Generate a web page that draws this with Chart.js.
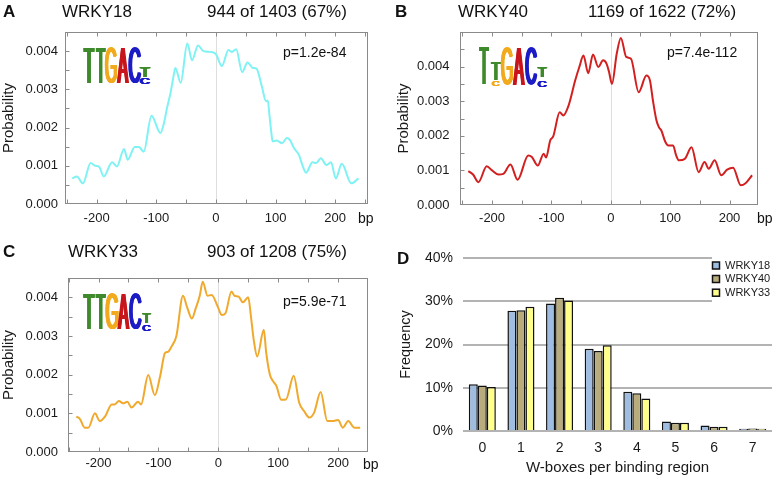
<!DOCTYPE html>
<html>
<head>
<meta charset="utf-8">
<script src="https://cdn.jsdelivr.net/npm/chart.js@4/dist/chart.umd.min.js"></script>
<style>
html,body{margin:0;padding:0;background:#fff;width:774px;height:477px;overflow:hidden;position:relative}
canvas{position:absolute}
</style>
</head>
<body>
<canvas id="cA" width="387" height="230" style="left:0;top:0"></canvas>
<canvas id="cB" width="384" height="230" style="left:390px;top:0"></canvas>
<canvas id="cC" width="387" height="247" style="left:0;top:230px"></canvas>
<canvas id="cD" width="384" height="247" style="left:390px;top:230px"></canvas>
<script>
// ---------------- DATA ----------------
// Position relative to binding-region centre (bp) and W-box probability
const bpA = [-241,-233,-223,-210,-202,-196,-188,-174,-166,-154,-148,-136,-129,-121,-108,-93,-87,-82,-76,-70,-68,-59,-48,-40,-30,-21,-9,0,10,21,27,34,44,53,62,68,77,84,87,90,93,95,102,111,119,124,131,139,145,151,162,168,176,185,193,201,211,227,239];
const probA = [0.67e-3,0.72e-3,0.54e-3,1.07e-3,1.00e-3,0.98e-3,0.72e-3,1.09e-3,0.98e-3,1.44e-3,1.16e-3,1.49e-3,1.49e-3,1.37e-3,2.31e-3,1.86e-3,2.12e-3,2.51e-3,2.91e-3,3.43e-3,3.56e-3,3.17e-3,4.20e-3,3.76e-3,4.15e-3,4.00e-3,3.98e-3,3.92e-3,3.61e-3,4.03e-3,3.98e-3,4.05e-3,3.45e-3,3.70e-3,3.56e-3,3.54e-3,3.08e-3,2.69e-3,2.71e-3,2.29e-3,1.86e-3,1.64e-3,1.66e-3,1.59e-3,1.73e-3,1.68e-3,1.46e-3,1.29e-3,1.02e-3,0.82e-3,1.09e-3,1.07e-3,1.20e-3,1.02e-3,1.09e-3,0.67e-3,1.05e-3,0.54e-3,0.67e-3];

const bpB = [-240,-232,-223,-209,-200,-189,-181,-169,-157,-139,-133,-123,-113,-109,-102,-97,-86,-80,-71,-60,-53,-46,-38,-30,-21,-13,-7,-3,2,10,17,26,34,47,60,66,71,77,81,85,92,97,105,110,115,125,136,148,158,165,175,186,196,206,219,227,238];
const probB = [0.98e-3,0.88e-3,0.66e-3,1.12e-3,1.00e-3,0.88e-3,0.90e-3,1.17e-3,0.73e-3,1.43e-3,1.39e-3,1.14e-3,1.48e-3,1.37e-3,1.87e-3,1.98e-3,2.68e-3,2.59e-3,2.88e-3,3.60e-3,3.99e-3,4.32e-3,3.81e-3,4.35e-3,3.99e-3,4.18e-3,4.08e-3,3.85e-3,3.50e-3,4.37e-3,4.83e-3,4.28e-3,4.23e-3,3.26e-3,3.74e-3,3.60e-3,3.02e-3,2.44e-3,2.25e-3,2.16e-3,1.82e-3,1.72e-3,1.72e-3,1.44e-3,1.29e-3,1.34e-3,1.67e-3,0.95e-3,1.24e-3,1.05e-3,1.29e-3,0.86e-3,1.02e-3,1.08e-3,0.57e-3,0.63e-3,0.86e-3];

const bpC = [-237,-231,-223,-217,-206,-198,-189,-178,-173,-166,-159,-152,-145,-134,-129,-117,-106,-97,-89,-84,-78,-70,-59,-52,-44,-38,-31,-26,-18,-11,-1,6,12,22,27,34,41,50,55,59,65,76,80,86,91,97,105,113,126,135,144,152,160,171,182,191,200,208,217,227,237];
const probC = [0.92e-3,0.85e-3,0.63e-3,0.63e-3,1.00e-3,0.80e-3,0.92e-3,1.23e-3,1.23e-3,1.32e-3,1.26e-3,1.30e-3,1.15e-3,1.30e-3,1.23e-3,1.99e-3,1.47e-3,1.97e-3,2.56e-3,2.59e-3,2.73e-3,3.00e-3,4.04e-3,3.74e-3,3.45e-3,3.70e-3,4.04e-3,4.40e-3,4.04e-3,4.06e-3,3.76e-3,3.54e-3,3.59e-3,4.15e-3,4.04e-3,4.02e-3,3.87e-3,4.00e-3,3.44e-3,2.92e-3,2.47e-3,3.16e-3,2.57e-3,2.01e-3,1.84e-3,1.71e-3,1.35e-3,1.36e-3,1.97e-3,1.28e-3,1.04e-3,0.89e-3,1.02e-3,1.55e-3,0.80e-3,0.80e-3,0.83e-3,0.63e-3,0.80e-3,0.63e-3,0.63e-3];

// Tick labels
const bpTickValues = [-200,-100,0,100,200];
const probTickValues = [0,0.001,0.002,0.003,0.004];

// Panel D: W-boxes per binding region
const wboxCategories = ['0','1','2','3','4','5','6','7'];
const freqWRKY18 = [10.8,27.8,29.5,19.0,9.1,2.2,1.3,0.5];
const freqWRKY40 = [10.5,27.9,30.8,18.5,8.7,1.9,1.0,0.6];
const freqWRKY33 = [10.2,28.7,30.2,19.8,7.5,1.9,1.0,0.5];
const freqTickValues = [0,10,20,30,40];

// ---------------- STYLE ----------------
const FAMILY = '"Liberation Sans", Arial, Helvetica, sans-serif';
Chart.defaults.font.family = FAMILY;
Chart.defaults.color = '#1a1a1a';

const LG = '#3f8a2c', LO = '#f2aa1e', LR = '#c8161d', LB = '#1d1dc6';

// Draw a stretched sequence-logo letter; stems thickened by horizontal smearing only
function drawLetter(ctx, ch, color, x0, x1, y0, y1) {
  const smear = Math.min(1.1, (x1 - x0) * 0.1);
  const bx0 = x0 + smear, bx1 = x1 - smear;
  ctx.save();
  ctx.font = '100px ' + FAMILY;
  const m = ctx.measureText(ch);
  const bw = m.actualBoundingBoxLeft + m.actualBoundingBoxRight;
  const bh = m.actualBoundingBoxAscent + m.actualBoundingBoxDescent;
  ctx.fillStyle = color;
  ctx.textAlign = 'left';
  ctx.textBaseline = 'alphabetic';
  for (let d = -smear; d <= smear + 1e-6; d += smear / 3) {
    ctx.save();
    ctx.translate(bx0 + d, y0);
    ctx.scale((bx1 - bx0) / bw, (y1 - y0) / bh);
    ctx.fillText(ch, m.actualBoundingBoxLeft, m.actualBoundingBoxAscent);
    ctx.restore();
  }
  ctx.restore();
}

function makeDecor(p) {
  return {
    id: 'decor',
    beforeDatasetsDraw(chart) {
      const {ctx, chartArea: a, scales: {x}} = chart;
      const x0 = Math.round(x.getPixelForValue(0)) + 0.5;
      ctx.save();
      ctx.strokeStyle = '#dedede';
      ctx.lineWidth = 1;
      ctx.beginPath(); ctx.moveTo(x0, a.top); ctx.lineTo(x0, a.bottom); ctx.stroke();
      ctx.restore();
    },
    afterDraw(chart) {
      const {ctx, chartArea: a, scales: {x, y}} = chart;
      ctx.save();
      ctx.strokeStyle = '#8a8a8a';
      ctx.lineWidth = 1;
      const L = Math.round(a.left) + 0.5, R = Math.round(a.right) - 0.5;
      const T = Math.round(a.top) + 0.5, B = Math.round(a.bottom) - 0.5;
      ctx.strokeRect(L, T, R - L, B - T);
      ctx.beginPath();
      for (let v = 0.0005; v < p.yMax; v += 0.0005) {
        const py = Math.round(y.getPixelForValue(v)) + 0.5;
        ctx.moveTo(L, py); ctx.lineTo(L + 4, py);
      }
      for (let v = -250; v <= 250; v += 50) {
        if (v <= p.xMin || v >= p.xMax) continue;
        const px = Math.round(x.getPixelForValue(v)) + 0.5;
        ctx.moveTo(px, T); ctx.lineTo(px, T + 4);
        ctx.moveTo(px, B); ctx.lineTo(px, B - 4);
      }
      ctx.stroke();
      p.logo.forEach(l => drawLetter(ctx, l[0], l[1], l[2], l[3], l[4], l[5]));
      ctx.fillStyle = '#111';
      ctx.textAlign = 'left';
      ctx.textBaseline = 'alphabetic';
      ctx.font = 'bold 17px ' + FAMILY;
      ctx.fillText(p.letter[0], p.letter[1], p.letter[2]);
      ctx.font = '17px ' + FAMILY;
      p.titles.forEach(t => ctx.fillText(t[0], t[1], t[2]));
      ctx.font = '14px ' + FAMILY;
      ctx.fillText(p.pval[0], p.pval[1], p.pval[2]);
      ctx.fillText('bp', p.bp[0], p.bp[1]);
      ctx.restore();
    }
  };
}

function linePanel(id, bp, prob, color, p) {
  return new Chart(document.getElementById(id), {
    type: 'line',
    data: {
      datasets: [{
        data: bp.map((xv, i) => ({x: xv, y: prob[i]})),
        borderColor: color,
        borderWidth: 2,
        pointRadius: 0,
        fill: false,
        cubicInterpolationMode: 'monotone'
      }]
    },
    options: {
      responsive: false,
      animation: false,
      events: [],
      layout: {padding: {top: p.area.top, right: p.w - p.area.right, left: 0, bottom: 0}},
      plugins: {legend: {display: false}, tooltip: {enabled: false}},
      scales: {
        x: {
          type: 'linear', min: p.xMin, max: p.xMax,
          afterBuildTicks: s => { s.ticks = bpTickValues.map(v => ({value: v})); },
          grid: {display: false, drawTicks: false},
          border: {display: false},
          ticks: {padding: p.xPad, font: {size: 13}, color: '#1a1a1a', maxRotation: 0, autoSkip: false, callback: v => String(v)},
          afterFit: s => { s.height = p.h - p.area.bottom; }
        },
        y: {
          type: 'linear', min: 0, max: p.yMax,
          afterBuildTicks: s => { s.ticks = probTickValues.map(v => ({value: v})); },
          grid: {display: false, drawTicks: false},
          border: {display: false},
          ticks: {padding: p.yPad, font: {size: 13}, color: '#1a1a1a', autoSkip: false, callback: v => Number(v).toFixed(3)},
          title: {display: true, text: 'Probability', font: {size: 15}, color: '#1a1a1a', padding: {top: p.yTitlePad, bottom: 0}},
          afterFit: s => { s.width = p.area.left; }
        }
      }
    },
    plugins: [makeDecor(p)]
  });
}

linePanel('cA', bpA, probA, '#7ff2f4', {
  w: 387, h: 230, area: {left: 65, top: 32, right: 368, bottom: 204},
  xMin: -253, xMax: 255, yMax: 0.0045, xPad: 7, yPad: 7, yTitlePad: 0,
  letter: ['A', 3, 17], titles: [['WRKY18', 62, 17], ['944 of 1403 (67%)', 207, 17]],
  pval: ['p=1.2e-84', 283, 57], bp: [358, 223],
  logo: [['T',LG,83.3,94.7,48.3,83.3],['T',LG,95.7,105.7,48.3,83.3],['G',LO,104.7,117.3,48.3,83.3],
         ['A',LR,116.7,129,48.3,83.3],['C',LB,128.3,141.3,48.3,83.3],['T',LG,139.5,150.5,66.7,76.7],['C',LB,139.5,150.5,77.7,84]]
});

linePanel('cB', bpB, probB, '#d21f1f', {
  w: 384, h: 230, area: {left: 70, top: 32, right: 368, bottom: 205},
  xMin: -254, xMax: 248, yMax: 0.005, xPad: 6, yPad: 10.5, yTitlePad: 4.5,
  letter: ['B', 5, 17], titles: [['WRKY40', 68, 17], ['1169 of 1622 (72%)', 198, 17]],
  pval: ['p=7.4e-112', 277, 57], bp: [367, 223],
  logo: [['T',LG,89,99,48,85],['T',LG,100.7,111,61.7,80],['C',LO,101.5,110,81,86],['G',LO,110.7,123.3,48,85],
         ['A',LR,122.7,135,48,85],['C',LB,135,147.3,48,85],['T',LG,147.3,157.3,66.7,77.3],['C',LB,147.3,157.3,80,86.7]]
});

linePanel('cC', bpC, probC, '#f0a92c', {
  w: 387, h: 247, area: {left: 68, top: 48, right: 368, bottom: 222},
  xMin: -251, xMax: 250, yMax: 0.0045, xPad: 4, yPad: 10, yTitlePad: 0,
  letter: ['C', 3, 26.5], titles: [['WRKY33', 68, 26.5], ['903 of 1208 (75%)', 207, 26.5]],
  pval: ['p=5.9e-71', 283, 76], bp: [363, 238.5],
  logo: [['T',LG,83,95,64.3,99.3],['T',LG,95.5,106,64.3,99.3],['G',LO,105.3,118.7,64.3,99.3],
         ['A',LR,117.3,129.7,64.3,99.3],['C',LB,129,142,64.3,99.3],['T',LG,142,151.3,82,92.7],['C',LB,142,151.3,94.3,101]]
});

// ---------------- PANEL D ----------------
const barColors = ['#9fbde0', '#b8ac7c', '#ffff8a'];
const dDecor = {
  id: 'dDecor',
  afterDatasetsDraw(chart) {
    const {ctx} = chart;
    ctx.save();
    ctx.fillStyle = '#fff';
    ctx.fillRect(322, 22, 62, 54);
    const names = chart.data.datasets.map(d => d.label);
    const rows = [35.5, 49, 62.7];
    ctx.font = '11px ' + FAMILY;
    ctx.textBaseline = 'middle';
    ctx.textAlign = 'left';
    names.forEach((n, i) => {
      ctx.fillStyle = barColors[i];
      ctx.fillRect(322.5, rows[i] - 3.5, 7, 7);
      ctx.strokeStyle = '#111';
      ctx.lineWidth = 1.5;
      ctx.strokeRect(322.5, rows[i] - 3.5, 7, 7);
      ctx.fillStyle = '#1a1a1a';
      ctx.fillText(n, 335, rows[i]);
    });
    ctx.font = 'bold 17px ' + FAMILY;
    ctx.textBaseline = 'alphabetic';
    ctx.fillStyle = '#111';
    ctx.fillText('D', 7, 33.5);
    ctx.restore();
  }
};

new Chart(document.getElementById('cD'), {
  type: 'bar',
  data: {
    labels: wboxCategories,
    datasets: [
      {label: 'WRKY18', data: freqWRKY18, backgroundColor: barColors[0], borderColor: '#111', borderWidth: 1.5},
      {label: 'WRKY40', data: freqWRKY40, backgroundColor: barColors[1], borderColor: '#111', borderWidth: 1.5},
      {label: 'WRKY33', data: freqWRKY33, backgroundColor: barColors[2], borderColor: '#111', borderWidth: 1.5}
    ]
  },
  options: {
    responsive: false,
    animation: false,
    events: [],
    layout: {padding: {left: 0, top: 28, right: 2, bottom: 0}},
    datasets: {bar: {categoryPercentage: 0.7, barPercentage: 1.0}},
    plugins: {legend: {display: false}, tooltip: {enabled: false}},
    scales: {
      x: {
        grid: {display: false, drawTicks: false},
        border: {display: false},
        ticks: {padding: 9, font: {size: 14}, color: '#1a1a1a'},
        title: {display: true, text: 'W-boxes per binding region', font: {size: 15}, color: '#1a1a1a', padding: {top: 0, bottom: 0}},
        afterFit: s => { s.height = 46; }
      },
      y: {
        min: 0, max: 40,
        afterBuildTicks: s => { s.ticks = freqTickValues.map(v => ({value: v})); },
        grid: {color: '#b3b3b3', lineWidth: 2, drawTicks: false},
        border: {display: false},
        ticks: {padding: 10, font: {size: 14}, color: '#1a1a1a', callback: v => v + '%'},
        title: {display: true, text: 'Frequency', font: {size: 14.5}, color: '#1a1a1a', padding: {top: 7.5, bottom: 0}},
        afterFit: s => { s.width = 73; }
      }
    }
  },
  plugins: [dDecor]
});
</script>
</body>
</html>
